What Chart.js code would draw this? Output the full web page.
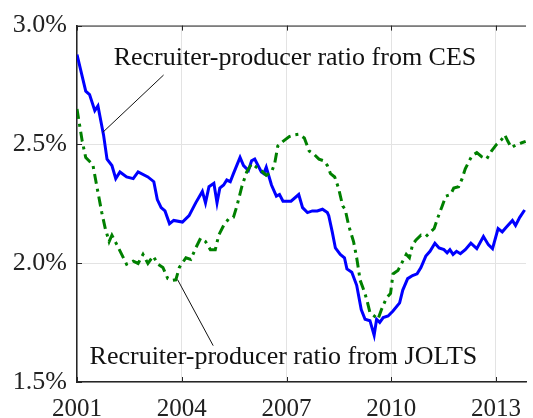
<!DOCTYPE html>
<html>
<head>
<meta charset="utf-8">
<script src="https://cdn.jsdelivr.net/npm/chart.js@4"></script>
<style>
  html, body { margin: 0; padding: 0; background: #fff; }
  #wrap { width: 533px; height: 418px; }
</style>
</head>
<body>
<div id="wrap"><canvas id="chart" width="533" height="418"></canvas></div>
<script>
// Recruiter-producer ratio, percent
const cesYears = [2001.0, 2001.25, 2001.36, 2001.51, 2001.60, 2001.76, 2001.86, 2002.0, 2002.11, 2002.23, 2002.42, 2002.61, 2002.75,
  2003.03, 2003.20, 2003.30, 2003.41, 2003.52, 2003.65, 2003.77, 2004.02, 2004.21, 2004.40, 2004.59, 2004.68, 2004.78, 2004.92,
  2005.01, 2005.09, 2005.20, 2005.29, 2005.39, 2005.48, 2005.67, 2005.77, 2005.91, 2006.0, 2006.09, 2006.28, 2006.35, 2006.42,
  2006.57, 2006.71, 2006.80, 2006.90, 2007.13, 2007.35, 2007.46, 2007.60, 2007.74, 2007.88, 2008.03, 2008.17, 2008.21, 2008.31,
  2008.40, 2008.54, 2008.66, 2008.73, 2008.87, 2009.01, 2009.14, 2009.25, 2009.39, 2009.51, 2009.58, 2009.67, 2009.77, 2009.91,
  2010.05, 2010.24, 2010.33, 2010.47, 2010.61, 2010.74, 2010.85, 2010.99, 2011.11, 2011.25, 2011.37, 2011.51, 2011.60, 2011.68,
  2011.77, 2011.87, 2011.98, 2012.12, 2012.28, 2012.45, 2012.64, 2012.78, 2012.90, 2013.06, 2013.18, 2013.30, 2013.47, 2013.56,
  2013.68, 2013.82];
const cesValues = [2.878, 2.724, 2.71, 2.642, 2.662, 2.54, 2.438, 2.411, 2.356, 2.384, 2.363, 2.356, 2.384,
  2.363, 2.343, 2.268, 2.234, 2.22, 2.166, 2.18, 2.173, 2.2, 2.254, 2.302, 2.254, 2.322, 2.336,
  2.254, 2.316, 2.329, 2.35, 2.343, 2.377, 2.445, 2.411, 2.39, 2.431, 2.438, 2.384, 2.377, 2.404,
  2.329, 2.282, 2.289, 2.261, 2.261, 2.289, 2.234, 2.213, 2.22, 2.22, 2.227, 2.213, 2.2, 2.132,
  2.064, 2.037, 2.023, 1.976, 1.962, 1.907, 1.805, 1.764, 1.758, 1.697, 1.764, 1.751, 1.771, 1.778,
  1.799, 1.833, 1.887, 1.935, 1.948, 1.955, 1.982, 2.03, 2.05, 2.084, 2.064, 2.057, 2.044, 2.057,
  2.037, 2.05, 2.04, 2.057, 2.084, 2.061, 2.112, 2.078, 2.061, 2.146, 2.132, 2.152, 2.18, 2.159,
  2.193, 2.224];

const joltsYears = [2001.0, 2001.15, 2001.25, 2001.39, 2001.45, 2001.57, 2001.71, 2001.81, 2001.92, 2002.0, 2002.14, 2002.28,
  2002.42, 2002.61, 2002.75, 2002.89, 2003.03, 2003.18, 2003.32, 2003.46, 2003.60, 2003.74, 2003.83, 2003.93, 2004.12, 2004.26,
  2004.40, 2004.54, 2004.68, 2004.82, 2004.96, 2005.06, 2005.20, 2005.34, 2005.48, 2005.58, 2005.72, 2005.86, 2006.0, 2006.14,
  2006.28, 2006.42, 2006.57, 2006.66, 2006.75, 2006.90, 2007.08, 2007.22, 2007.36, 2007.51, 2007.65, 2007.79, 2007.93, 2008.07,
  2008.17, 2008.26, 2008.38, 2008.49, 2008.61, 2008.68, 2008.78, 2008.92, 2009.01, 2009.11, 2009.23, 2009.30, 2009.39, 2009.51,
  2009.62, 2009.72, 2009.86, 2009.98, 2010.05, 2010.19, 2010.33, 2010.43, 2010.52, 2010.61, 2010.71, 2010.85, 2010.99, 2011.08,
  2011.23, 2011.32, 2011.46, 2011.56, 2011.70, 2011.79, 2011.93, 2012.03, 2012.12, 2012.21, 2012.31, 2012.45, 2012.59, 2012.73,
  2012.87, 2013.01, 2013.16, 2013.25, 2013.34, 2013.44, 2013.58, 2013.72, 2013.85];
const joltsValues = [2.649, 2.513, 2.445, 2.424, 2.418, 2.322, 2.213, 2.146, 2.091, 2.118, 2.078, 2.037,
  1.996, 2.009, 1.999, 2.037, 1.999, 2.03, 1.996, 1.982, 1.935, 1.928, 1.93, 1.982, 2.023, 2.016,
  2.064, 2.105, 2.091, 2.057, 2.057, 2.118, 2.159, 2.186, 2.193, 2.241, 2.322, 2.384, 2.418, 2.404,
  2.39, 2.37, 2.384, 2.418, 2.493, 2.513, 2.533, 2.54, 2.543, 2.527, 2.472, 2.458, 2.438, 2.431,
  2.411, 2.377, 2.363, 2.316, 2.241, 2.227, 2.159, 2.091, 2.023, 1.928, 1.88, 1.846, 1.792, 1.778,
  1.764, 1.805, 1.853, 1.873, 1.955, 1.969, 2.009, 2.037, 2.023, 2.078, 2.098, 2.118, 2.112, 2.125,
  2.146, 2.186, 2.241, 2.282, 2.289, 2.316, 2.322, 2.356, 2.397, 2.424, 2.452, 2.465, 2.448, 2.438,
  2.472, 2.499, 2.52, 2.54, 2.513, 2.486, 2.499, 2.506, 2.513];

const xTicks = [2001, 2004, 2007, 2010, 2013];
const yTicks = [1.5, 2.0, 2.5, 3.0];

// text labels with leader lines, in data units
const notes = [
  { text: "Recruiter-producer ratio from CES", x: 2002.05, y: 2.833, from: [2003.48, 2.792], to: [2001.74, 2.551] },
  { text: "Recruiter-producer ratio from JOLTS", x: 2001.36, y: 1.576, from: [2003.88, 1.931], to: [2004.90, 1.653] },
];

const FONT = "'Liberation Serif', 'Times New Roman', serif";
const AXIS = "#262626";

const zip = (xs, ys) => xs.map((x, i) => ({ x, y: ys[i] }));

// box top edge, inward tick marks, annotations
const decor = {
  id: "decor",
  afterDatasetsDraw(chart) {
    const { ctx, chartArea: a, scales: { x, y } } = chart;
    ctx.save();
    ctx.strokeStyle = AXIS;
    ctx.lineWidth = 1;
    ctx.beginPath();
    ctx.moveTo(a.left, a.top + 0.5);
    ctx.lineTo(a.right, a.top + 0.5);
    xTicks.forEach((t) => {
      const px = Math.round(x.getPixelForValue(t)) + 0.5;
      ctx.moveTo(px, a.bottom); ctx.lineTo(px, a.bottom - 5);
      ctx.moveTo(px, a.top); ctx.lineTo(px, a.top + 5);
    });
    yTicks.forEach((t) => {
      const py = Math.round(y.getPixelForValue(t)) + 0.5;
      ctx.moveTo(a.left, py); ctx.lineTo(a.left + 5, py);
    });
    ctx.stroke();

    ctx.fillStyle = "#111";
    ctx.font = "26px " + FONT;
    ctx.textBaseline = "alphabetic";
    ctx.textAlign = "left";
    notes.forEach((n) => {
      ctx.beginPath();
      ctx.moveTo(x.getPixelForValue(n.from[0]), y.getPixelForValue(n.from[1]));
      ctx.lineTo(x.getPixelForValue(n.to[0]), y.getPixelForValue(n.to[1]));
      ctx.strokeStyle = "#111";
      ctx.stroke();
      ctx.fillText(n.text, x.getPixelForValue(n.x), y.getPixelForValue(n.y));
    });
    ctx.restore();
  },
};

new Chart(document.getElementById("chart"), {
  type: "line",
  data: {
    datasets: [
      {
        label: "JOLTS",
        data: zip(joltsYears, joltsValues),
        borderColor: "#008000",
        borderWidth: 3,
        borderDash: [10, 5, 3, 5],
        pointRadius: 0,
        tension: 0,
        order: 0,
      },
      {
        label: "CES",
        data: zip(cesYears, cesValues),
        borderColor: "#0000ff",
        borderWidth: 3,
        pointRadius: 0,
        tension: 0,
        order: 1,
      },
    ],
  },
  options: {
    responsive: false,
    animation: false,
    layout: { padding: { top: 14, right: 0, left: 0, bottom: 0 } },
    plugins: { legend: { display: false }, tooltip: { enabled: false } },
    scales: {
      x: {
        type: "linear",
        min: 2001,
        max: 2013.86,
        afterBuildTicks: (s) => { s.ticks = xTicks.map((v) => ({ value: v })); },
        afterFit: (s) => { s.height = 36; },
        grid: { color: "#e3e3e3", drawTicks: false },
        border: { color: AXIS, width: 1.5 },
        ticks: {
          color: "#222",
          font: { family: FONT, size: 25 },
          padding: 12,
          maxRotation: 0,
          callback: (v) => String(v),
        },
      },
      y: {
        min: 1.5,
        max: 3.0,
        afterBuildTicks: (s) => { s.ticks = yTicks.map((v) => ({ value: v })); },
        afterFit: (s) => { s.width = 77; },
        grid: { color: "#e3e3e3", drawTicks: false },
        border: { color: AXIS, width: 1.5 },
        ticks: {
          color: "#222",
          font: { family: FONT, size: 26 },
          padding: 10,
          callback: (v) => v.toFixed(1) + "%",
        },
      },
    },
  },
  plugins: [decor],
});
</script>
</body>
</html>
